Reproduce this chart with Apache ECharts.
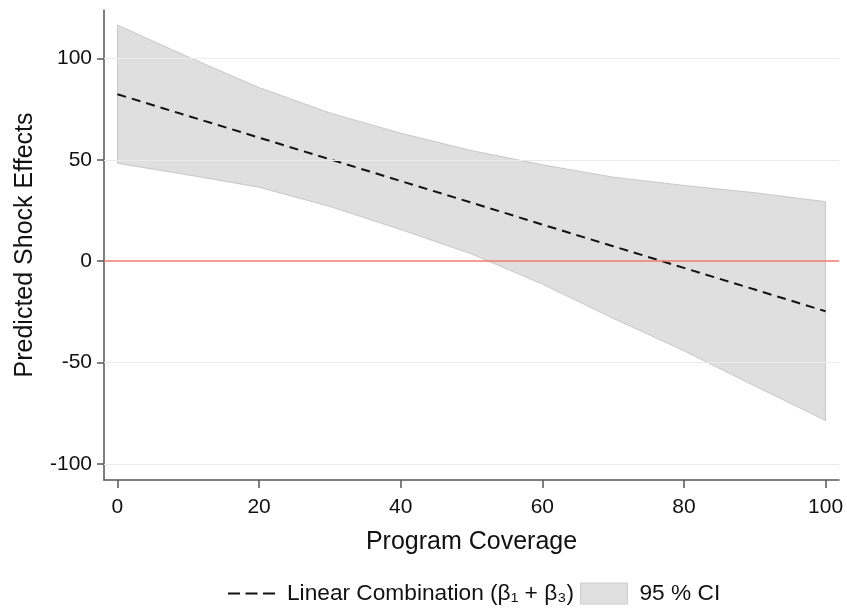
<!DOCTYPE html>
<html>
<head>
<meta charset="utf-8">
<script src="https://cdn.jsdelivr.net/npm/echarts@6/dist/echarts.min.js"></script>
<style>
html,body{margin:0;padding:0;background:#fff;}
#chart{width:847px;height:609px;}
</style>
</head>
<body>
<div id="chart"></div>
<script>
// Data
var coverage = [0, 10, 20, 30, 40, 50, 60, 70, 80, 90, 100];
var linearComb = [82.4, 71.7, 61.0, 50.3, 39.6, 28.9, 18.1, 7.4, -3.3, -14.0, -24.7];
var ciUpper = [116.6, 100.8, 85.7, 73.2, 63.2, 54.6, 47.6, 41.5, 37.4, 33.8, 29.4];
var ciLower = [48.3, 42.6, 36.5, 27.0, 15.6, 3.6, -11.3, -28.2, -44.2, -61.6, -78.6];
var xTicks = [0, 20, 40, 60, 80, 100];
var yTicks = [-100, -50, 0, 50, 100];
var gridLineValues = [-100, -50, 50, 100];
var zeroLine = 0;
var lineName = 'Linear Combination (β\u2081 + β\u2083)';
var ciName = '95 % CI';

var font = '"Liberation Sans", Arial, Helvetica, sans-serif';
var chart = echarts.init(document.getElementById('chart'), null, {renderer: 'canvas'});

var lineData = coverage.map(function (x, i) { return [x, linearComb[i]]; });

var option = {
  animation: false,
  backgroundColor: '#ffffff',
  grid: {left: 104, right: 8, top: 10, bottom: 129, containLabel: false},
  legend: {
    bottom: 4,
    left: 228,
    padding: 0,
    itemWidth: 47,
    itemHeight: 21,
    itemGap: 6,
    textStyle: {fontFamily: font, fontSize: 22.7, color: '#111', padding: [0, 0, 0, 7]},
    data: [
      {name: lineName, icon: 'path://M0,0h12v2h-12z M17.5,0h12v2h-12z M35,0h12v2h-12z', itemStyle: {color: '#111'}},
      {name: ciName, icon: 'rect', itemStyle: {color: '#e0e0e0', borderColor: '#cccccc', borderWidth: 1}}
    ]
  },
  xAxis: {
    type: 'value',
    min: -1.9,
    max: 101.9,
    name: 'Program Coverage',
    nameLocation: 'middle',
    nameGap: 50,
    nameTextStyle: {fontFamily: font, fontSize: 25, color: '#111'},
    axisLine: {show: true, onZero: false, lineStyle: {color: '#555', width: 1.5}},
    axisTick: {show: true, length: 8, customValues: xTicks, lineStyle: {color: '#555', width: 1.5}},
    axisLabel: {customValues: xTicks, margin: 17, fontFamily: font, fontSize: 21, color: '#111'},
    splitLine: {show: false}
  },
  yAxis: {
    type: 'value',
    min: -108,
    max: 124,
    name: 'Predicted Shock Effects',
    nameLocation: 'middle',
    nameGap: 66,
    nameTextStyle: {fontFamily: font, fontSize: 25, color: '#111'},
    axisLine: {show: true, onZero: false, lineStyle: {color: '#555', width: 1.5}},
    axisTick: {show: true, length: 7, customValues: yTicks, lineStyle: {color: '#555', width: 1.5}},
    axisLabel: {customValues: yTicks, margin: 12, fontFamily: font, fontSize: 21, color: '#111'},
    splitLine: {show: false}
  },
  series: [
    {
      name: 'refs',
      type: 'line',
      data: [],
      z: 1,
      silent: true,
      markLine: {
        silent: true,
        symbol: 'none',
        label: {show: false},
        animation: false,
        data: gridLineValues.map(function (v) {
          return {yAxis: v, lineStyle: {color: '#ebebeb', width: 1.2, type: 'solid'}};
        }).concat([{yAxis: zeroLine, lineStyle: {color: '#f07a72', width: 1.5, type: 'solid'}}])
      }
    },
    {
      name: ciName,
      type: 'custom',
      z: 2,
      itemStyle: {color: '#e0e0e0'},
      data: [[coverage[0], ciUpper[0]]],
      encode: {x: 0, y: 1},
      renderItem: function (params, api) {
        var pts = [];
        for (var i = 0; i < coverage.length; i++) pts.push(api.coord([coverage[i], ciUpper[i]]));
        for (var j = coverage.length - 1; j >= 0; j--) pts.push(api.coord([coverage[j], ciLower[j]]));
        return {
          type: 'polygon',
          shape: {points: pts},
          style: {fill: 'rgba(208,208,208,0.68)', stroke: 'rgba(190,190,190,0.8)', lineWidth: 1}
        };
      }
    },
    {
      name: lineName,
      type: 'line',
      z: 3,
      data: lineData,
      symbol: 'none',
      itemStyle: {color: '#111'},
      lineStyle: {color: '#111', width: 2, type: [9, 6]}
    }
  ]
};
chart.setOption(option);
</script>
</body>
</html>
